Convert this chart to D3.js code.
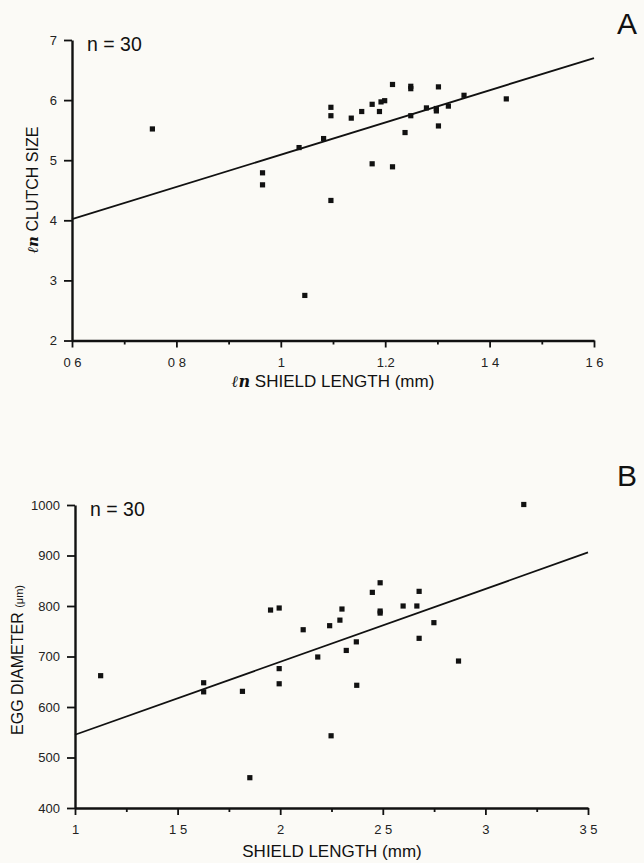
<!DOCTYPE html>
<html>
<head>
<meta charset="utf-8">
<script src="https://cdn.jsdelivr.net/npm/d3@7"></script>
<style>
  body { margin: 0; background: #fbfaf6; }
  svg { display: block; font-family: 'Liberation Sans', Arial, sans-serif; }
</style>
</head>
<body>
<svg width="644" height="863"></svg>
<script>
// panel A : ln shield length vs ln clutch size
const lnShieldA = [0.754, 0.965, 0.965, 1.035, 1.046, 1.082, 1.096, 1.096, 1.096, 1.135,
  1.155, 1.175, 1.175, 1.189, 1.192, 1.199, 1.214, 1.214, 1.238, 1.249,
  1.249, 1.249, 1.279, 1.298, 1.298, 1.302, 1.302, 1.321, 1.351, 1.432]
const lnClutchA = [5.52, 4.79, 4.59, 5.21, 2.75, 5.36, 5.88, 5.74, 4.33, 5.70,
  5.81, 5.93, 4.94, 5.81, 5.97, 5.99, 6.26, 4.89, 5.46, 6.23,
  6.19, 5.74, 5.87, 5.86, 5.82, 6.22, 5.57, 5.90, 6.08, 6.02]
const fitAx = [0.6, 1.6]
const fitAy = [4.02, 6.70]
const xTicksA = [0.6, 0.8, 1, 1.2, 1.4, 1.6]
const xTickLabelsA = ['0 6', '0 8', '1', '1.2', '1 4', '1 6']
const xMinorA = [0.7, 0.9, 1.1, 1.3, 1.5]
const yTicksA = [2, 3, 4, 5, 6, 7]

// panel B : shield length vs egg diameter
const shieldB = [1.125, 1.627, 1.627, 1.816, 1.852, 1.953, 1.995, 1.995, 1.995, 2.112,
  2.183, 2.241, 2.248, 2.291, 2.301, 2.322, 2.371, 2.373, 2.449, 2.487,
  2.487, 2.487, 2.599, 2.666, 2.677, 2.677, 2.749, 2.869, 3.187]
const eggB = [662, 648, 630, 631, 460, 792, 796, 676, 646, 753,
  699, 761, 543, 772, 794, 712, 729, 643, 827, 846,
  790, 786, 800, 800, 829, 736, 767, 691, 1001]
const fitBx = [1, 3.5]
const fitBy = [545, 906]
const xTicksB = [1, 1.5, 2, 2.5, 3, 3.5]
const xTickLabelsB = ['1', '1 5', '2', '2 5', '3', '3 5']
const xMinorB = [1.25, 1.75, 2.25, 2.75, 3.25]
const yTicksB = [400, 500, 600, 700, 800, 900, 1000]

const svg = d3.select('svg')

function panel(opt) {
  const x = d3.scaleLinear().domain(opt.xDomain).range(opt.xRange)
  const y = d3.scaleLinear().domain(opt.yDomain).range(opt.yRange)
  const g = svg.append('g')
  const x0 = opt.xRange[0], y0 = opt.yRange[0]

  // minor x ticks
  g.append('g')
    .attr('transform', `translate(0,${y0})`)
    .call(d3.axisBottom(x).tickValues(opt.xMinor).tickSize(4).tickFormat(''))
    .call(a => a.select('.domain').remove())
    .call(a => a.selectAll('line').attr('stroke', '#111').attr('stroke-width', 1.8))

  const xa = g.append('g')
    .attr('transform', `translate(0,${y0})`)
    .call(d3.axisBottom(x).tickValues(opt.xTicks).tickSize(7).tickSizeOuter(0).tickPadding(10)
      .tickFormat((d, i) => opt.xLabels[i]))
  xa.select('.domain').attr('stroke', '#111').attr('stroke-width', 2.4)
  xa.selectAll('line').attr('stroke', '#111').attr('stroke-width', 1.8)
  xa.selectAll('text').attr('font-size', 13).attr('fill', '#222')

  const ya = g.append('g')
    .attr('transform', `translate(${x0},0)`)
    .call(d3.axisLeft(y).tickValues(opt.yTicks).tickSize(8).tickSizeOuter(0).tickPadding(7)
      .tickFormat(d => String(d)))
  ya.select('.domain').attr('stroke', '#111').attr('stroke-width', 2.4)
  ya.selectAll('line').attr('stroke', '#111').attr('stroke-width', 1.8)
  ya.selectAll('text').attr('font-size', 13).attr('fill', '#222')

  g.append('line')
    .attr('x1', x(opt.fitX[0])).attr('y1', y(opt.fitY[0]))
    .attr('x2', x(opt.fitX[1])).attr('y2', y(opt.fitY[1]))
    .attr('stroke', '#111').attr('stroke-width', 1.8)

  g.selectAll('rect.pt')
    .data(opt.xs)
    .enter().append('rect')
    .attr('class', 'pt')
    .attr('x', d => x(d) - 2.6)
    .attr('y', (d, i) => y(opt.ys[i]) - 2.6)
    .attr('width', 5.2).attr('height', 5.2)
    .attr('fill', '#111')

  g.append('text')
    .attr('x', x0 + 15).attr('y', opt.yRange[1] + 11)
    .attr('font-size', 19.5).attr('fill', '#111')
    .text('n = 30')

  g.append('text')
    .attr('x', 617).attr('y', opt.letterY)
    .attr('font-size', 30).attr('fill', '#111')
    .text(opt.letter)

  return { x, y, g }
}

const A = panel({
  xDomain: [0.6, 1.6], xRange: [72, 594],
  yDomain: [2, 7], yRange: [340.5, 40],
  xTicks: xTicksA, xLabels: xTickLabelsA, xMinor: xMinorA, yTicks: yTicksA,
  xs: lnShieldA, ys: lnClutchA, fitX: fitAx, fitY: fitAy,
  letter: 'A', letterY: 34
})

const xl = A.g.append('text')
  .attr('x', 333).attr('y', 387)
  .attr('text-anchor', 'middle').attr('font-size', 17).attr('fill', '#111')
xl.append('tspan').attr('font-family', 'DejaVu Serif').attr('font-style', 'italic')
  .attr('font-weight', 'bold').attr('font-size', 16).text('ℓn')
xl.append('tspan').text(' SHIELD LENGTH (mm)')

const yl = A.g.append('text')
  .attr('transform', 'translate(38,190) rotate(-90)')
  .attr('text-anchor', 'middle').attr('font-size', 16).attr('fill', '#111')
yl.append('tspan').attr('font-family', 'DejaVu Serif').attr('font-style', 'italic')
  .attr('font-weight', 'bold').attr('font-size', 15).text('ℓn')
yl.append('tspan').text(' CLUTCH SIZE')

const B = panel({
  xDomain: [1, 3.5], xRange: [75, 588],
  yDomain: [400, 1000], yRange: [808, 505],
  xTicks: xTicksB, xLabels: xTickLabelsB, xMinor: xMinorB, yTicks: yTicksB,
  xs: shieldB, ys: eggB, fitX: fitBx, fitY: fitBy,
  letter: 'B', letterY: 486
})

B.g.append('text')
  .attr('x', 332).attr('y', 857)
  .attr('text-anchor', 'middle').attr('font-size', 17).attr('fill', '#111')
  .text('SHIELD LENGTH (mm)')

const yl2 = B.g.append('text')
  .attr('transform', 'translate(23,660) rotate(-90)')
  .attr('text-anchor', 'middle').attr('font-size', 16).attr('fill', '#111')
yl2.append('tspan').text('EGG DIAMETER ')
yl2.append('tspan').attr('font-size', 11).text('(μm)')
</script>
</body>
</html>
